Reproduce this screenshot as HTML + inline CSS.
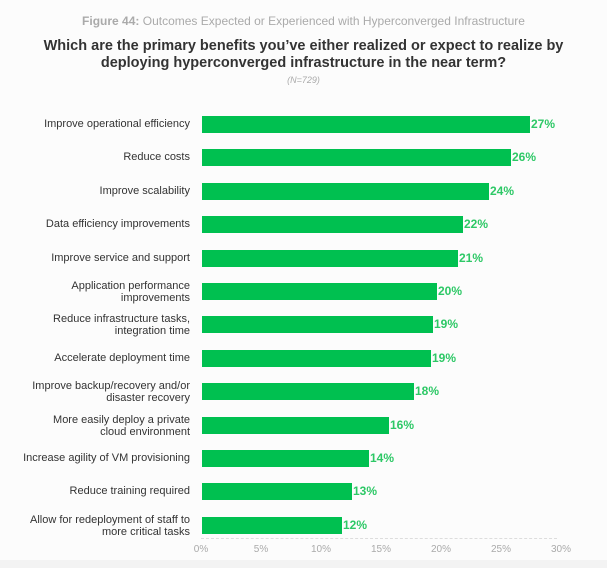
<!DOCTYPE html><html><head><style>
body{margin:0;width:607px;height:568px;background:#fcfcfc;font-family:"Liberation Sans",sans-serif;position:relative;overflow:hidden}
.a{position:absolute}
.l{position:absolute;right:417px;width:200px;text-align:right;font-size:11px;color:#333;line-height:11px}
.l2{line-height:12px}
.b{position:absolute;left:202px;height:17px;background:#00c050}
.v{position:absolute;font-size:12px;font-weight:bold;color:#2dc866}
.t{position:absolute;top:544px;font-size:10px;color:#aaa;width:40px;text-align:center}
</style></head><body>
<div class="a" style="top:14px;left:0;width:607px;text-align:center;font-size:12px;color:#aaa"><b>Figure 44:</b> Outcomes Expected or Experienced with Hyperconverged Infrastructure</div>
<div class="a" style="top:38px;left:0;width:607px;text-align:center;font-size:14.5px;font-weight:bold;color:#333;line-height:17px">Which are the primary benefits you’ve either realized or expect to realize by<br>deploying hyperconverged infrastructure in the near term?</div>
<div class="a" style="top:75px;left:0;width:607px;text-align:center;font-size:9px;color:#aaa;font-style:italic">(N=729)</div>
<div id="c"></div>
<div class="a" style="left:201px;top:538px;width:356px;border-top:1px dashed #ddd"></div>
<div class="a" style="left:0;top:560px;width:607px;height:8px;background:#f3f3f3"></div>
<script>
var d=[["Improve operational efficiency",530,27],["Reduce costs",511,26],["Improve scalability",489,24],["Data efficiency improvements",463,22],["Improve service and support",458,21],["Application performance<br>improvements",437,20],["Reduce infrastructure tasks,<br>integration time",433,19],["Accelerate deployment time",431,19],["Improve backup/recovery and/or<br>disaster recovery",414,18],["More easily deploy a private<br>cloud environment",389,16],["Increase agility of VM provisioning",369,14],["Reduce training required",352,13],["Allow for redeployment of staff to<br>more critical tasks",342,12]];
var h="";d.forEach(function(r,i){var c=124+i*33.4;var two=r[0].indexOf("<br>")>0;
h+='<div class="l'+(two?' l2':'')+'" style="top:'+(c-(two?11:5))+'px">'+r[0]+'</div><div class="b" style="top:'+(c-8)+'px;width:'+(r[1]-202)+'px"></div><div class="v" style="top:'+(c-7)+'px;left:'+(r[1]+1)+'px">'+r[2]+'%</div>';});
for(var k=0;k<=6;k++){h+='<div class="t" style="left:'+(181+k*60)+'px">'+(k*5)+'%</div>';}
document.getElementById("c").innerHTML=h;
</script>
</body></html>
